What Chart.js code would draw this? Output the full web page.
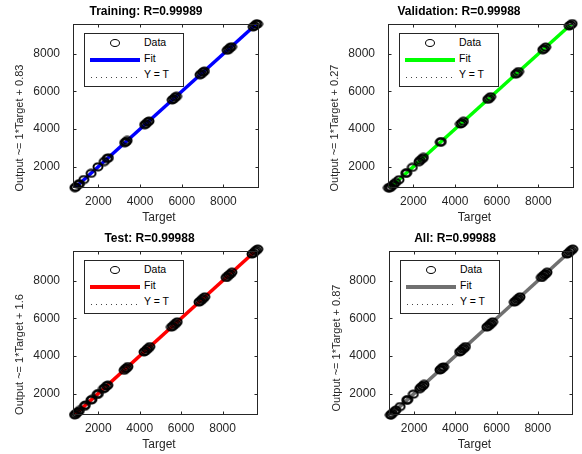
<!DOCTYPE html>
<html><head><meta charset="utf-8">
<script src="https://cdn.jsdelivr.net/npm/chart.js@4.4.1/dist/chart.umd.min.js"></script>
<style>
html,body{margin:0;padding:0;background:#fff;}
#wrap{position:relative;width:582px;height:454px;overflow:hidden;font-family:"Liberation Sans",Arial,sans-serif;}
.cell{position:absolute;width:291px;height:227px;}
.cell canvas{position:absolute;left:0;top:0;}
.leg{position:absolute;top:33px;width:100px;height:54px;border:1px solid #262626;background:#fff;box-sizing:border-box;}
.leg .mk{position:absolute;left:25px;top:5px;width:10px;height:8px;border:1px solid #000;border-radius:50%;box-sizing:border-box;}
.leg .ln{position:absolute;left:5px;top:24px;width:50px;height:4px;}
.leg .dt{position:absolute;left:6px;top:43px;width:48px;height:1px;background:repeating-linear-gradient(to right,#444 0 1px,transparent 1px 5px);}
.leg span{position:absolute;left:59px;font-size:10.5px;line-height:12px;color:#000;white-space:nowrap;}
</style></head>
<body>
<div id="wrap">
  <div class="cell" style="left:0;top:0"><canvas id="c0" width="291" height="227"></canvas></div>
  <div class="cell" style="left:291px;top:0"><canvas id="c1" width="291" height="227"></canvas></div>
  <div class="cell" style="left:0;top:227px"><canvas id="c2" width="291" height="227"></canvas></div>
  <div class="cell" style="left:291px;top:227px"><canvas id="c3" width="291" height="227"></canvas></div>
</div>
<script>
// ---- data ----
const panelTitles = ['Training: R=0.99989', 'Validation: R=0.99988', 'Test: R=0.99988', 'All: R=0.99988'];
const yLabels = ['Output ~= 1*Target + 0.83', 'Output ~= 1*Target + 0.27', 'Output ~= 1*Target + 1.6', 'Output ~= 1*Target + 0.87'];
const xLabel = 'Target';
const legendLabels = ['Data', 'Fit', 'Y = T'];
const tickValues = [2000, 4000, 6000, 8000];
const xLimits = [780, 9710];
const yLimits = [860, 9590];

const trainTarget = [870, 920, 1040, 1090, 1300, 1650, 1980, 2280, 2420, 2480, 3260, 3320, 3380, 4220, 4290, 4360, 4430, 5540, 5610, 5680, 5750, 6880, 6950, 7020, 7090, 8180, 8250, 8320, 8390, 9430, 9500, 9570, 9640];
const trainOutput = [880, 910, 1050, 1080, 1310, 1640, 1990, 2270, 2430, 2470, 3270, 3310, 3390, 4230, 4280, 4370, 4420, 5550, 5600, 5690, 5740, 6890, 6940, 7030, 7080, 8190, 8240, 8330, 8380, 9440, 9490, 9580, 9590];

const valTarget = [800, 860, 910, 990, 1070, 1150, 1310, 1630, 1680, 1950, 2270, 2330, 2430, 2480, 3290, 3340, 4260, 4330, 4400, 5570, 5640, 5710, 6910, 6980, 7050, 8210, 8280, 8350, 9480, 9550, 9620];
const valOutput = [870, 880, 900, 1000, 1060, 1160, 1300, 1640, 1670, 1960, 2260, 2340, 2420, 2490, 3300, 3330, 4270, 4320, 4410, 5580, 5630, 5720, 6920, 6970, 7060, 8220, 8270, 8360, 9490, 9540, 9610];

const testTarget = [860, 900, 950, 1030, 1090, 1330, 1380, 1640, 1700, 1950, 2010, 2250, 2310, 2400, 2460, 3250, 3310, 3370, 3430, 4210, 4280, 4350, 4420, 4490, 5530, 5600, 5670, 5740, 5810, 6860, 6930, 7000, 7070, 7140, 8170, 8240, 8310, 8380, 8450, 9420, 9490, 9560, 9630, 9700];
const testOutput = [870, 890, 960, 1020, 1100, 1320, 1390, 1650, 1690, 1960, 2000, 2260, 2300, 2410, 2450, 3240, 3320, 3360, 3440, 4220, 4270, 4360, 4410, 4500, 5540, 5590, 5680, 5730, 5820, 6870, 6920, 7010, 7060, 7150, 8180, 8230, 8320, 8370, 8460, 9430, 9480, 9570, 9620, 9690];

const allTarget = [850, 890, 940, 1050, 1110, 1320, 1640, 1690, 1960, 2270, 2330, 2420, 2480, 3250, 3310, 3370, 3430, 4210, 4280, 4350, 4420, 4490, 5530, 5600, 5670, 5740, 5810, 6860, 6930, 7000, 7070, 7140, 8170, 8240, 8310, 8380, 8450, 9420, 9490, 9560, 9630, 9700];
const allOutput = [860, 880, 950, 1040, 1120, 1310, 1650, 1680, 1970, 2260, 2340, 2410, 2490, 3260, 3300, 3380, 3420, 4220, 4270, 4360, 4410, 4500, 5540, 5590, 5680, 5730, 5820, 6870, 6920, 7010, 7060, 7150, 8180, 8230, 8320, 8370, 8460, 9430, 9480, 9570, 9620, 9690];

const fitX = [780, 9710];
const trainFitY = [780.83, 9710.83];
const valFitY = [780.27, 9710.27];
const testFitY = [781.6, 9711.6];
const allFitY = [780.87, 9710.87];
const identityY = [780, 9710];

const fitColors = ['#0000ff', '#00ff00', '#ff0000', '#707070'];

// ---- rendering ----
const FONT = "'Liberation Sans', Arial, sans-serif";
const AXIS_COLOR = '#262626';

function makeMarker() {
  const c = document.createElement('canvas');
  c.width = 12; c.height = 10;
  const g = c.getContext('2d');
  g.strokeStyle = '#000'; g.lineWidth = 2.0;
  g.beginPath(); g.ellipse(6, 5, 4.5, 3.6, 0, 0, Math.PI * 2); g.stroke();
  return c;
}
const marker = makeMarker();

function shiftTitle(dx, dy) {
  return function (scale) {
    if (scale.__shifted) return;
    scale.__shifted = true;
    const orig = scale.drawTitle;
    scale.drawTitle = function () {
      const c = this.ctx; c.save(); c.translate(dx, dy); orig.call(this); c.restore();
    };
  };
}

const boxPlugin = {
  id: 'matlabBox',
  afterLayout(chart, args, opts) {
    const tb = chart.titleBlock;
    if (tb && !tb.__shifted) {
      tb.__shifted = true;
      const orig = tb.draw;
      tb.draw = function () {
        const c = chart.ctx; c.save(); c.translate(opts.titleDx || 0, 0); orig.apply(this, arguments); c.restore();
      };
    }
  },
  afterDatasetsDraw(chart) {
    const {ctx, chartArea: {left, top, right, bottom}, scales: {x, y}} = chart;
    ctx.save();
    ctx.strokeStyle = AXIS_COLOR; ctx.lineWidth = 1;
    const L = Math.round(left) + 0.5, T = Math.round(top) + 0.5, R = Math.round(right) - 0.5, B = Math.round(bottom) - 0.5;
    ctx.strokeRect(L, T, R - L, B - T);
    ctx.beginPath();
    tickValues.forEach(v => {
      const px = Math.round(x.getPixelForValue(v)) + 0.5;
      ctx.moveTo(px, B); ctx.lineTo(px, B - 3);
      ctx.moveTo(px, T); ctx.lineTo(px, T + 3);
      const py = Math.round(y.getPixelForValue(v)) + 0.5;
      ctx.moveTo(L, py); ctx.lineTo(L + 3, py);
      ctx.moveTo(R, py); ctx.lineTo(R - 3, py);
    });
    ctx.stroke();
    ctx.restore();
  }
};

const panels = [
  {id: 'c0', target: trainTarget, output: trainOutput, fitY: trainFitY, plotL: 73, plotR: 259, titleC: 146, yTitleX: 20, yTitleCY: 128, xTitleCX: 159},
  {id: 'c1', target: valTarget, output: valOutput, fitY: valFitY, plotL: 97, plotR: 283, titleC: 168, yTitleX: 44, yTitleCY: 128, xTitleCX: 183.5},
  {id: 'c2', target: testTarget, output: testOutput, fitY: testFitY, plotL: 73, plotR: 258, titleC: 149.5, yTitleX: 20, yTitleCY: 127.5, xTitleCX: 159},
  {id: 'c3', target: allTarget, output: allOutput, fitY: allFitY, plotL: 98, plotR: 282, titleC: 164, yTitleX: 45.5, yTitleCY: 121, xTitleCX: 183.5}
];

const PLOT_TOP = 24, PLOT_BOTTOM = 188, W = 291, H = 227;

panels.forEach((p, k) => {
  const padL = 0;
  const padR = W - p.plotR;
  const plotCX = (p.plotL + p.plotR) / 2;
  const plotCY = (PLOT_TOP + PLOT_BOTTOM) / 2;
  const tickFont = {family: FONT, size: 12};
  new Chart(document.getElementById(p.id), {
    type: 'scatter',
    data: {
      datasets: [
        {label: legendLabels[0], data: p.target.map((t, i) => ({x: t, y: p.output[i]})),
         pointStyle: marker, pointRadius: 5, order: 0, clip: false, showLine: false},
        {type: 'line', label: legendLabels[1], data: fitX.map((v, i) => ({x: v, y: p.fitY[i]})),
         borderColor: fitColors[k], borderWidth: 3.5, pointRadius: 0, order: 1, fill: false},
        {type: 'line', label: legendLabels[2], data: fitX.map((v, i) => ({x: v, y: identityY[i]})),
         borderColor: '#000', borderWidth: 1, borderDash: [1, 4], pointRadius: 0, order: 2, fill: false}
      ]
    },
    options: {
      responsive: false, animation: false, devicePixelRatio: 1,
      layout: {padding: {left: padL, right: padR, top: 0, bottom: 0}},
      plugins: {
        legend: {display: false}, tooltip: {enabled: false},
        title: {display: true, text: panelTitles[k], color: '#000',
                font: {family: FONT, size: 12, weight: 'bold'}, padding: {top: 4.3, bottom: 5.3}},
        matlabBox: {titleDx: p.titleC - (padL + (W - padR)) / 2}
      },
      scales: {
        x: {
          type: 'linear', min: xLimits[0], max: xLimits[1],
          afterBuildTicks: s => { s.ticks = tickValues.map(v => ({value: v})); },
          afterFit: s => { s.height = H - PLOT_BOTTOM; },
          afterUpdate: shiftTitle(p.xTitleCX - plotCX, 0),
          grid: {display: false, drawTicks: false}, border: {display: false},
          ticks: {padding: 6, color: AXIS_COLOR, font: tickFont, autoSkip: false, maxRotation: 0, callback: v => String(v)},
          title: {display: true, text: xLabel, color: AXIS_COLOR, font: {family: FONT, size: 12}, padding: {top: 0, bottom: 1.8}}
        },
        y: {
          type: 'linear', min: yLimits[0], max: yLimits[1],
          afterBuildTicks: s => { s.ticks = tickValues.map(v => ({value: v})); },
          afterFit: s => { s.width = p.plotL - padL; },
          afterUpdate: shiftTitle(p.yTitleX - (padL + 6.6), p.yTitleCY - plotCY),
          grid: {display: false, drawTicks: false}, border: {display: false},
          ticks: {padding: 13, color: AXIS_COLOR, font: tickFont, autoSkip: false, callback: v => String(v)},
          title: {display: true, text: yLabels[k], color: AXIS_COLOR, font: {family: FONT, size: 11}, padding: 0}
        }
      }
    },
    plugins: [boxPlugin]
  });

  // legend box (inside the axes, like the original)
  const leg = document.createElement('div');
  leg.className = 'leg';
  leg.style.left = (p.plotL + 11) + 'px';
  leg.innerHTML =
    '<div class="mk"></div><span style="top:2px">' + legendLabels[0] + '</span>' +
    '<div class="ln" style="background:' + fitColors[k] + '"></div><span style="top:18px">' + legendLabels[1] + '</span>' +
    '<div class="dt"></div><span style="top:34px">' + legendLabels[2] + '</span>';
  document.getElementById(p.id).parentNode.appendChild(leg);
});
</script>
</body></html>
